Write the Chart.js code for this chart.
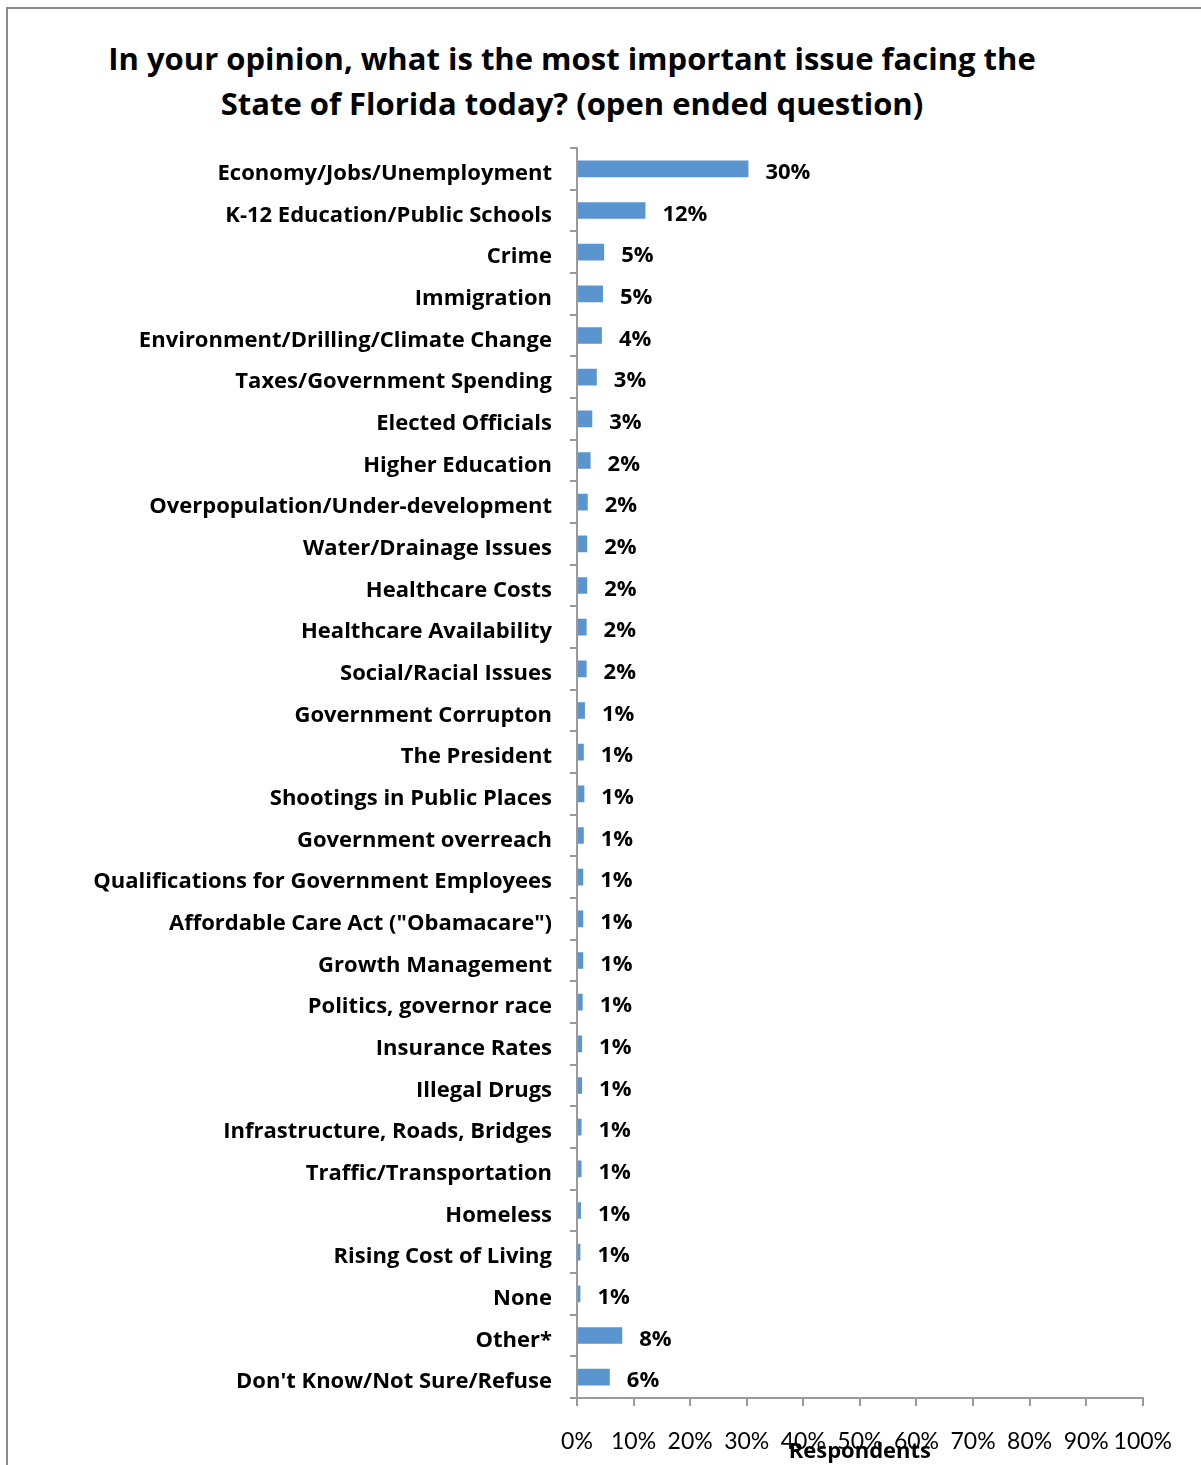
<!DOCTYPE html>
<html>
<head>
<meta charset="utf-8">
<script src="https://cdn.jsdelivr.net/npm/chart.js@4.4.0/dist/chart.umd.min.js"></script>
<style>
  body { margin: 0; background: #fff; overflow: hidden; }
  #wrap { position: relative; width: 1201px; height: 1465px; }
  #frame { position: absolute; left: 6px; top: 7px; width: 1300px; height: 1600px; border: 2px solid #8a8a8a; }
  #title { position: absolute; left: 72px; top: 36px; width: 1000px; text-align: center;
           font: bold 31px "Open Sans", sans-serif; line-height: 45px; color: #000; }
  canvas { position: absolute; left: 0; top: 0; }
</style>
</head>
<body>
<div id="wrap">
  <div id="frame"></div>
  <div id="title">In your opinion, what is the most important issue facing the<br>State of Florida today? (open ended question)</div>
  <canvas id="issuesChart" width="1194" height="1465"></canvas>
</div>
<script>
// categorias (ordem de cima pra baixo)
const categories = [
  "Economy/Jobs/Unemployment", "K-12 Education/Public Schools", "Crime", "Immigration",
  "Environment/Drilling/Climate Change", "Taxes/Government Spending", "Elected Officials",
  "Higher Education", "Overpopulation/Under-development", "Water/Drainage Issues",
  "Healthcare Costs", "Healthcare Availability", "Social/Racial Issues", "Government Corrupton",
  "The President", "Shootings in Public Places", "Government overreach",
  "Qualifications for Government Employees", "Affordable Care Act (\"Obamacare\")",
  "Growth Management", "Politics, governor race", "Insurance Rates", "Illegal Drugs",
  "Infrastructure, Roads, Bridges", "Traffic/Transportation", "Homeless",
  "Rising Cost of Living", "None", "Other*", "Don't Know/Not Sure/Refuse"
];

const values = [
  30.3, 12.1, 4.8, 4.6, 4.4, 3.5, 2.7, 2.4, 1.9, 1.8,
  1.8, 1.7, 1.7, 1.4, 1.2, 1.3, 1.2, 1.1, 1.1, 1.1,
  1.0, 0.9, 0.9, 0.8, 0.8, 0.7, 0.6, 0.6, 8.0, 5.8
];

// rótulos mostrados ao lado das barras
const valueLabels = [
  "30%", "12%", "5%", "5%", "4%", "3%", "3%", "2%", "2%", "2%",
  "2%", "2%", "2%", "1%", "1%", "1%", "1%", "1%", "1%", "1%",
  "1%", "1%", "1%", "1%", "1%", "1%", "1%", "1%", "8%", "6%"
];

const xTickLabels = ["0%", "10%", "20%", "30%", "40%", "50%", "60%", "70%", "80%", "90%", "100%"];

const axisGrey = '#9a9a9a';
const labelFont = '"Open Sans"';

// escreve o valor à direita de cada barra
const barLabels = {
  id: 'barLabels',
  afterDatasetsDraw(chart) {
    const ctx = chart.ctx;
    const meta = chart.getDatasetMeta(0);
    ctx.save();
    ctx.font = 'bold 22px ' + labelFont;
    ctx.fillStyle = '#000';
    ctx.textAlign = 'left';
    ctx.textBaseline = 'middle';
    meta.data.forEach((bar, i) => {
      ctx.fillText(valueLabels[i], bar.x + 17, bar.y + 4);
    });
    ctx.restore();
  }
};

const ctx = document.getElementById('issuesChart').getContext('2d');
new Chart(ctx, {
  type: 'bar',
  data: {
    labels: categories,
    datasets: [{
      data: values,
      backgroundColor: '#5b95cf',
      barPercentage: 0.4,
      categoryPercentage: 1
    }]
  },
  options: {
    indexAxis: 'y',
    responsive: false,
    animation: false,
    layout: { padding: { top: 148, right: 0, bottom: 0, left: 0 } },
    plugins: {
      legend: { display: false },
      tooltip: { enabled: false }
    },
    scales: {
      x: {
        min: 0,
        max: 100,
        ticks: {
          stepSize: 10,
          autoSkip: false,
          maxRotation: 0,
          padding: 22,
          color: '#000',
          font: { family: 'Lato', size: 23 },
          callback: (v, i) => xTickLabels[i]
        },
        grid: { drawOnChartArea: false, tickLength: 8, color: axisGrey, lineWidth: 2 },
        border: { color: axisGrey, width: 2 },
        title: {
          display: true,
          text: 'Respondents',
          color: '#000',
          font: { family: labelFont, size: 22, weight: 'bold' },
          padding: 0
        },
        afterFit(scale) { scale.height = 67; }
      },
      y: {
        ticks: {
          autoSkip: false,
          padding: 18,
          labelOffset: 5,
          color: '#000',
          font: { family: labelFont, size: 22, weight: 'bold' }
        },
        grid: { drawOnChartArea: false, tickLength: 7, color: axisGrey, lineWidth: 2, offset: true },
        border: { color: axisGrey, width: 2 },
        afterFit(scale) { scale.width = 577; }
      }
    }
  },
  plugins: [barLabels]
});
</script>
</body>
</html>
